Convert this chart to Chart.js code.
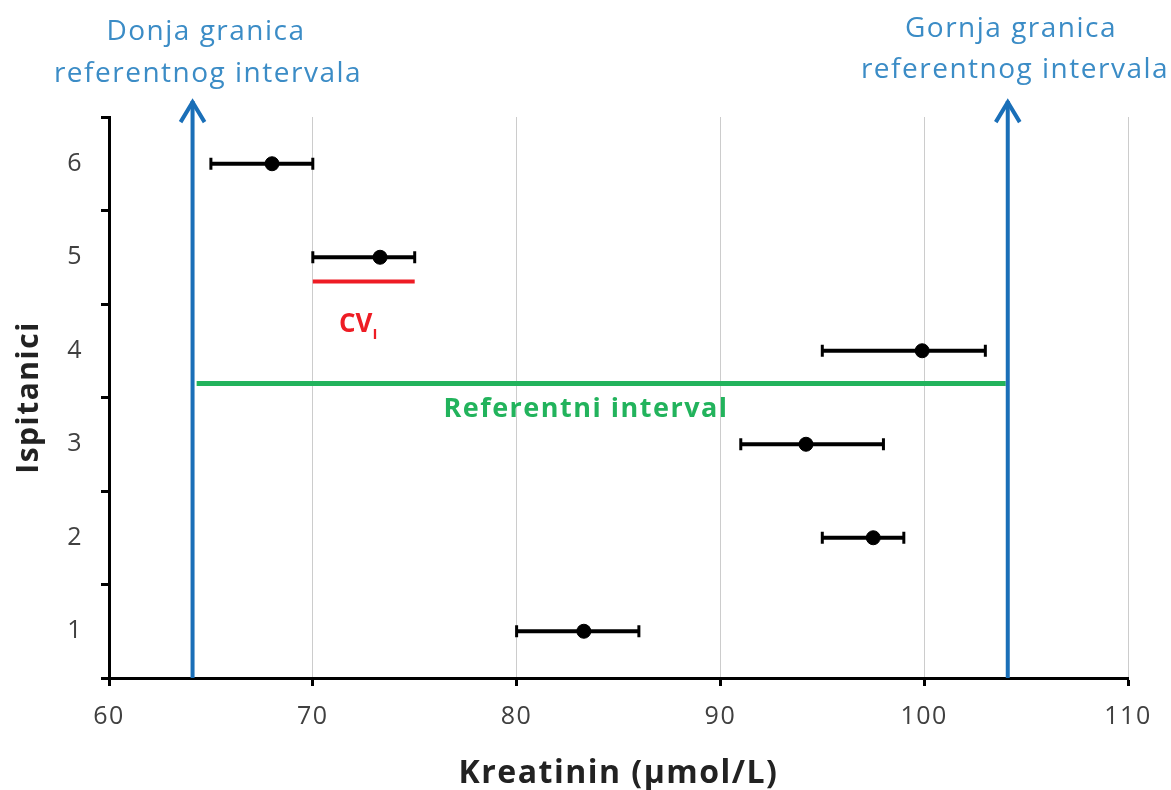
<!DOCTYPE html>
<html>
<head>
<meta charset="utf-8">
<script src="https://cdn.jsdelivr.net/npm/chart.js@4"></script>
<style>
  body { margin: 0; background: #fff; }
  #wrap { width: 1171px; height: 790px; }
</style>
</head>
<body>
<div id="wrap"><canvas id="myChart"></canvas></div>
<script>
// data
let subjects = [1, 2, 3, 4, 5, 6];
let means = [83.3, 97.5, 94.2, 99.9, 73.3, 68.0];
let lows = [80, 95, 91, 95, 70, 65];
let highs = [86, 99, 98, 103, 75, 70];

let xTicks = [60, 70, 80, 90, 100, 110];

// reference interval limits and lines
let lowerLimit = 64.1;
let upperLimit = 104.1;
let arrowTop = 6.67;
let refInterval = [64.3, 104.0];
let refIntervalY = 3.65;
let cvLine = [70, 75];
let cvLineY = 4.74;

let blue = '#1a6fb8';
let blueText = '#3b8cc6';
let green = '#22b35c';
let red = '#ee1c24';
let fontName = "'Open Sans'";

// error bars, one dataset per subject
let errorSets = subjects.map((s, i) => ({
  data: [{ x: lows[i], y: s }, { x: highs[i], y: s }],
  showLine: true,
  borderColor: '#000',
  borderWidth: 4,
  pointStyle: 'line',
  pointRotation: 90,
  pointRadius: 6,
  pointBorderWidth: 3,
  pointBorderColor: '#000'
}));

let config = {
  type: 'scatter',
  data: {
    datasets: [
      {
        data: subjects.map((s, i) => ({ x: means[i], y: s })),
        pointRadius: 7,
        pointBackgroundColor: '#000',
        pointBorderColor: '#000',
        showLine: false
      },
      ...errorSets,
      {
        data: [{ x: lowerLimit, y: 0.5 }, { x: lowerLimit, y: arrowTop }],
        showLine: true, borderColor: blue, borderWidth: 4, pointRadius: 0, clip: false
      },
      {
        data: [{ x: upperLimit, y: 0.5 }, { x: upperLimit, y: arrowTop }],
        showLine: true, borderColor: blue, borderWidth: 4, pointRadius: 0, clip: false
      },
      {
        data: [{ x: cvLine[0], y: cvLineY }, { x: cvLine[1], y: cvLineY }],
        showLine: true, borderColor: red, borderWidth: 4, pointRadius: 0
      },
      {
        data: [{ x: refInterval[0], y: refIntervalY }, { x: refInterval[1], y: refIntervalY }],
        showLine: true, borderColor: green, borderWidth: 5, pointRadius: 0
      }
    ]
  },
  options: {
    responsive: true,
    maintainAspectRatio: false,
    animation: false,
    events: [],
    layout: { padding: { top: 117, right: 43, bottom: 0, left: 0 } },
    plugins: { legend: { display: false }, tooltip: { enabled: false } },
    scales: {
      x: {
        type: 'linear',
        min: xTicks[0],
        max: xTicks[xTicks.length - 1],
        afterBuildTicks: (scale) => { scale.ticks = xTicks.map(v => ({ value: v })); },
        afterFit: (scale) => { scale.height = 112; },
        border: { color: '#000', width: 3 },
        grid: { color: '#cccccc', lineWidth: 1, tickColor: '#000', tickWidth: 3, tickLength: 8 },
        ticks: { color: '#404040', padding: 16, font: { family: fontName, size: 25 } },
        title: {
          display: true,
          text: 'Kreatinin (μmol/L)',
          color: '#222',
          padding: 0,
          font: { family: fontName, size: 32, weight: 'bold', lineHeight: 1 }
        }
      },
      y: {
        type: 'linear',
        min: 0.5,
        max: 6.5,
        afterBuildTicks: (scale) => {
          let t = [];
          for (let v = 0.5; v <= 6.5; v += 0.5) t.push({ value: v });
          scale.ticks = t;
        },
        afterFit: (scale) => { scale.width = 109; },
        border: { color: '#000', width: 3 },
        grid: {
          drawOnChartArea: false,
          tickLength: 8,
          tickWidth: 3,
          tickColor: (c) => (c.tick && Number.isInteger(c.tick.value)) ? 'rgba(0,0,0,0)' : '#000'
        },
        ticks: {
          autoSkip: false,
          color: '#404040',
          padding: 18,
          font: { family: fontName, size: 25 },
          callback: (v) => subjects.includes(v) ? String(v) : ''
        },
        title: {
          display: true,
          text: 'Ispitanici',
          color: '#222',
          padding: { top: 11, bottom: 0 },
          font: { family: fontName, size: 30, weight: 'bold' }
        }
      }
    }
  },
  plugins: [{
    id: 'notes',
    beforeDraw(chart) {
      // the reference text is a little spaced out
      chart.ctx.letterSpacing = '1.5px';
    },
    afterDatasetsDraw(chart) {
      let ctx = chart.ctx;
      let x = chart.scales.x;
      let y = chart.scales.y;

      // arrow heads on the limit lines
      [lowerLimit, upperLimit].forEach(v => {
        let px = x.getPixelForValue(v);
        let py = y.getPixelForValue(arrowTop);
        ctx.save();
        ctx.strokeStyle = blue;
        ctx.lineWidth = 4;
        ctx.lineJoin = 'miter';
        ctx.beginPath();
        ctx.moveTo(px - 12, py + 21);
        ctx.lineTo(px, py + 1);
        ctx.lineTo(px + 12, py + 21);
        ctx.stroke();
        ctx.restore();
      });

      ctx.save();
      ctx.textAlign = 'center';
      ctx.textBaseline = 'alphabetic';
      ctx.letterSpacing = '1.5px';

      // limit captions
      ctx.fillStyle = blueText;
      ctx.font = "28px 'Open Sans'";
      ctx.fillText('Donja granica', 206, 40);
      ctx.fillText('referentnog intervala', 208, 82);
      ctx.fillText('Gornja granica', 1011, 37);
      ctx.fillText('referentnog intervala', 1015, 78);

      // reference interval label
      ctx.fillStyle = green;
      ctx.font = "bold 27px 'Open Sans'";
      ctx.fillText('Referentni interval', 586, 417);

      // CV label
      ctx.letterSpacing = '0px';
      ctx.fillStyle = red;
      ctx.font = "bold 26px 'Open Sans'";
      ctx.textAlign = 'left';
      ctx.fillText('CV', 339, 332);
      let w = ctx.measureText('CV').width;
      ctx.font = "bold 15px 'Open Sans'";
      ctx.fillText('I', 339 + w, 339);
      ctx.restore();
    }
  }]
};

let myChart = new Chart(document.getElementById('myChart'), config);
</script>
</body>
</html>
